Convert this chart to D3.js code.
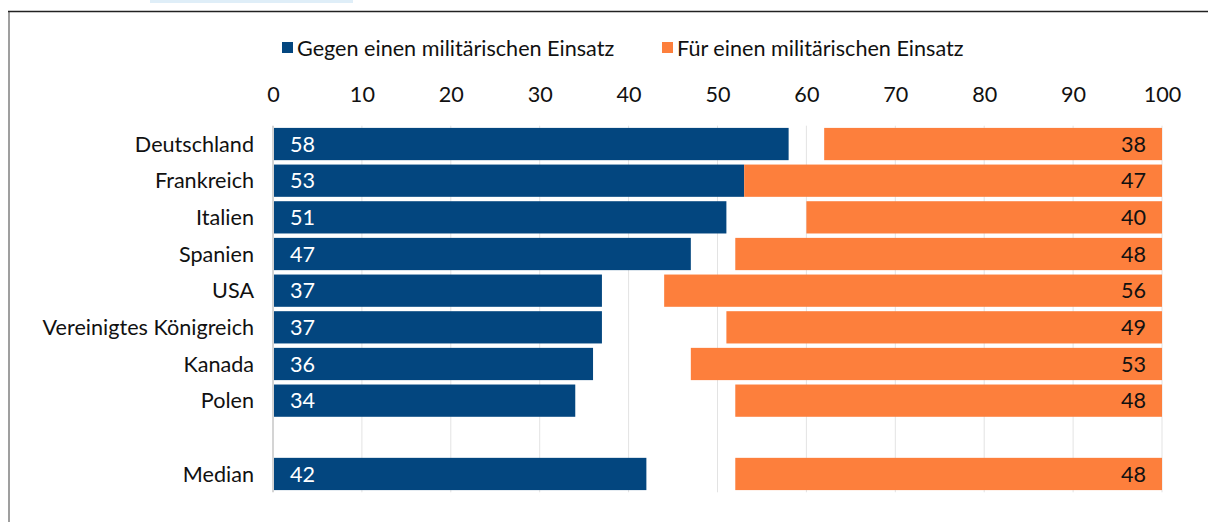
<!DOCTYPE html>
<html>
<head>
<meta charset="utf-8">
<script src="https://cdn.jsdelivr.net/npm/d3@7"></script>
<style>
  body { margin: 0; background: #fff; }
  text { font-family: Lato, "Open Sans", sans-serif; }
</style>
</head>
<body>
<div id="chart"></div>
<script>
// data
const countries = ["Deutschland", "Frankreich", "Italien", "Spanien", "USA",
    "Vereinigtes Königreich", "Kanada", "Polen", "", "Median"]
const against = [58, 53, 51, 47, 37, 37, 36, 34, null, 42]
const infavor = [38, 47, 40, 48, 56, 49, 53, 48, null, 48]
const ticks = [0, 10, 20, 30, 40, 50, 60, 70, 80, 90, 100]
const seriesNames = ["Gegen einen militärischen Einsatz", "Für einen militärischen Einsatz"]

const blue = "#03467f"
const orange = "#fd7f3c"
const fontSize = "21.6px"

const width = 1208
const height = 522

let svg = d3.select("#chart")
    .append("svg")
    .attr("width", width)
    .attr("height", height)

// light box at the very top and frame
svg.append("rect").attr("x", 150).attr("y", 0).attr("width", 203).attr("height", 3).attr("fill", "#dfeef8")
svg.append("line").attr("x1", 9).attr("x2", 9).attr("y1", 11).attr("y2", height)
    .attr("stroke", "#7f7f7f").attr("stroke-width", 1.5)
svg.append("line").attr("x1", 8).attr("x2", width).attr("y1", 11.5).attr("y2", 11.5)
    .attr("stroke", "#222").attr("stroke-width", 1.3)

let x = d3.scaleLinear().domain([0, 100]).range([273, 1162])
let y = d3.scaleBand().domain(d3.range(countries.length)).range([125.7, 492.3]).paddingInner(0.12).paddingOuter(0.06)

// grid lines
svg.selectAll("grid")
    .data(ticks.slice(1))
    .enter()
    .append("line")
    .attr("x1", d => x(d)).attr("x2", d => x(d))
    .attr("y1", y.range()[0]).attr("y2", y.range()[1])
    .attr("stroke", "#e3e3e3").attr("stroke-width", 1)

// top axis labels
let axis = svg.append("g")
    .attr("transform", "translate(0,88)")
    .call(d3.axisTop(x).tickValues(ticks).tickSize(0).tickPadding(0))
axis.select(".domain").remove()
axis.selectAll("text")
    .style("font-size", fontSize)
    .style("font-family", "Lato, sans-serif")
    .attr("fill", "#111")
    .attr("dy", "0.66em")

// left axis line
svg.append("line")
    .attr("x1", x(0)).attr("x2", x(0))
    .attr("y1", y.range()[0]).attr("y2", y.range()[1])
    .attr("stroke", "#d4d4d4").attr("stroke-width", 2)

const rows = countries.map((c, i) => ({ i: i, name: c, a: against[i], f: infavor[i] }))
    .filter(d => d.a !== null)

// blue bars
svg.selectAll("againstBars")
    .data(rows)
    .enter()
    .append("rect")
    .attr("x", x(0) + 1)
    .attr("y", d => y(d.i))
    .attr("width", d => x(d.a) - x(0) - 1)
    .attr("height", y.bandwidth())
    .attr("fill", blue)

// orange bars, aligned to the right end
svg.selectAll("favorBars")
    .data(rows)
    .enter()
    .append("rect")
    .attr("x", d => x(100 - d.f))
    .attr("y", d => y(d.i))
    .attr("width", d => x(100) - x(100 - d.f))
    .attr("height", y.bandwidth())
    .attr("fill", orange)

// value labels
svg.selectAll("againstLabels")
    .data(rows)
    .enter()
    .append("text")
    .attr("x", x(0) + 17)
    .attr("y", d => y(d.i) + y.bandwidth() / 2)
    .attr("dy", "0.36em")
    .style("font-size", fontSize)
    .attr("fill", "#fff")
    .text(d => d.a)

svg.selectAll("favorLabels")
    .data(rows)
    .enter()
    .append("text")
    .attr("x", x(100) - 16)
    .attr("y", d => y(d.i) + y.bandwidth() / 2)
    .attr("dy", "0.36em")
    .attr("text-anchor", "end")
    .style("font-size", fontSize)
    .attr("fill", "#111")
    .text(d => d.f)

// category labels
svg.selectAll("catLabels")
    .data(rows)
    .enter()
    .append("text")
    .attr("x", 254)
    .attr("y", d => y(d.i) + y.bandwidth() / 2)
    .attr("dy", "0.36em")
    .attr("text-anchor", "end")
    .style("font-size", fontSize)
    .attr("fill", "#111")
    .text(d => d.name)

// legend
const legendX = [282, 662]
const legendColors = [blue, orange]
let legend = svg.selectAll("legend")
    .data(seriesNames)
    .enter()
    .append("g")
    .attr("transform", (d, i) => "translate(" + legendX[i] + ",42)")
legend.append("rect")
    .attr("width", 11).attr("height", 11)
    .attr("fill", (d, i) => legendColors[i])
legend.append("text")
    .attr("x", 15)
    .attr("y", 6)
    .attr("dy", "0.36em")
    .style("font-size", fontSize)
    .attr("fill", "#111")
    .text(d => d)
</script>
</body>
</html>
